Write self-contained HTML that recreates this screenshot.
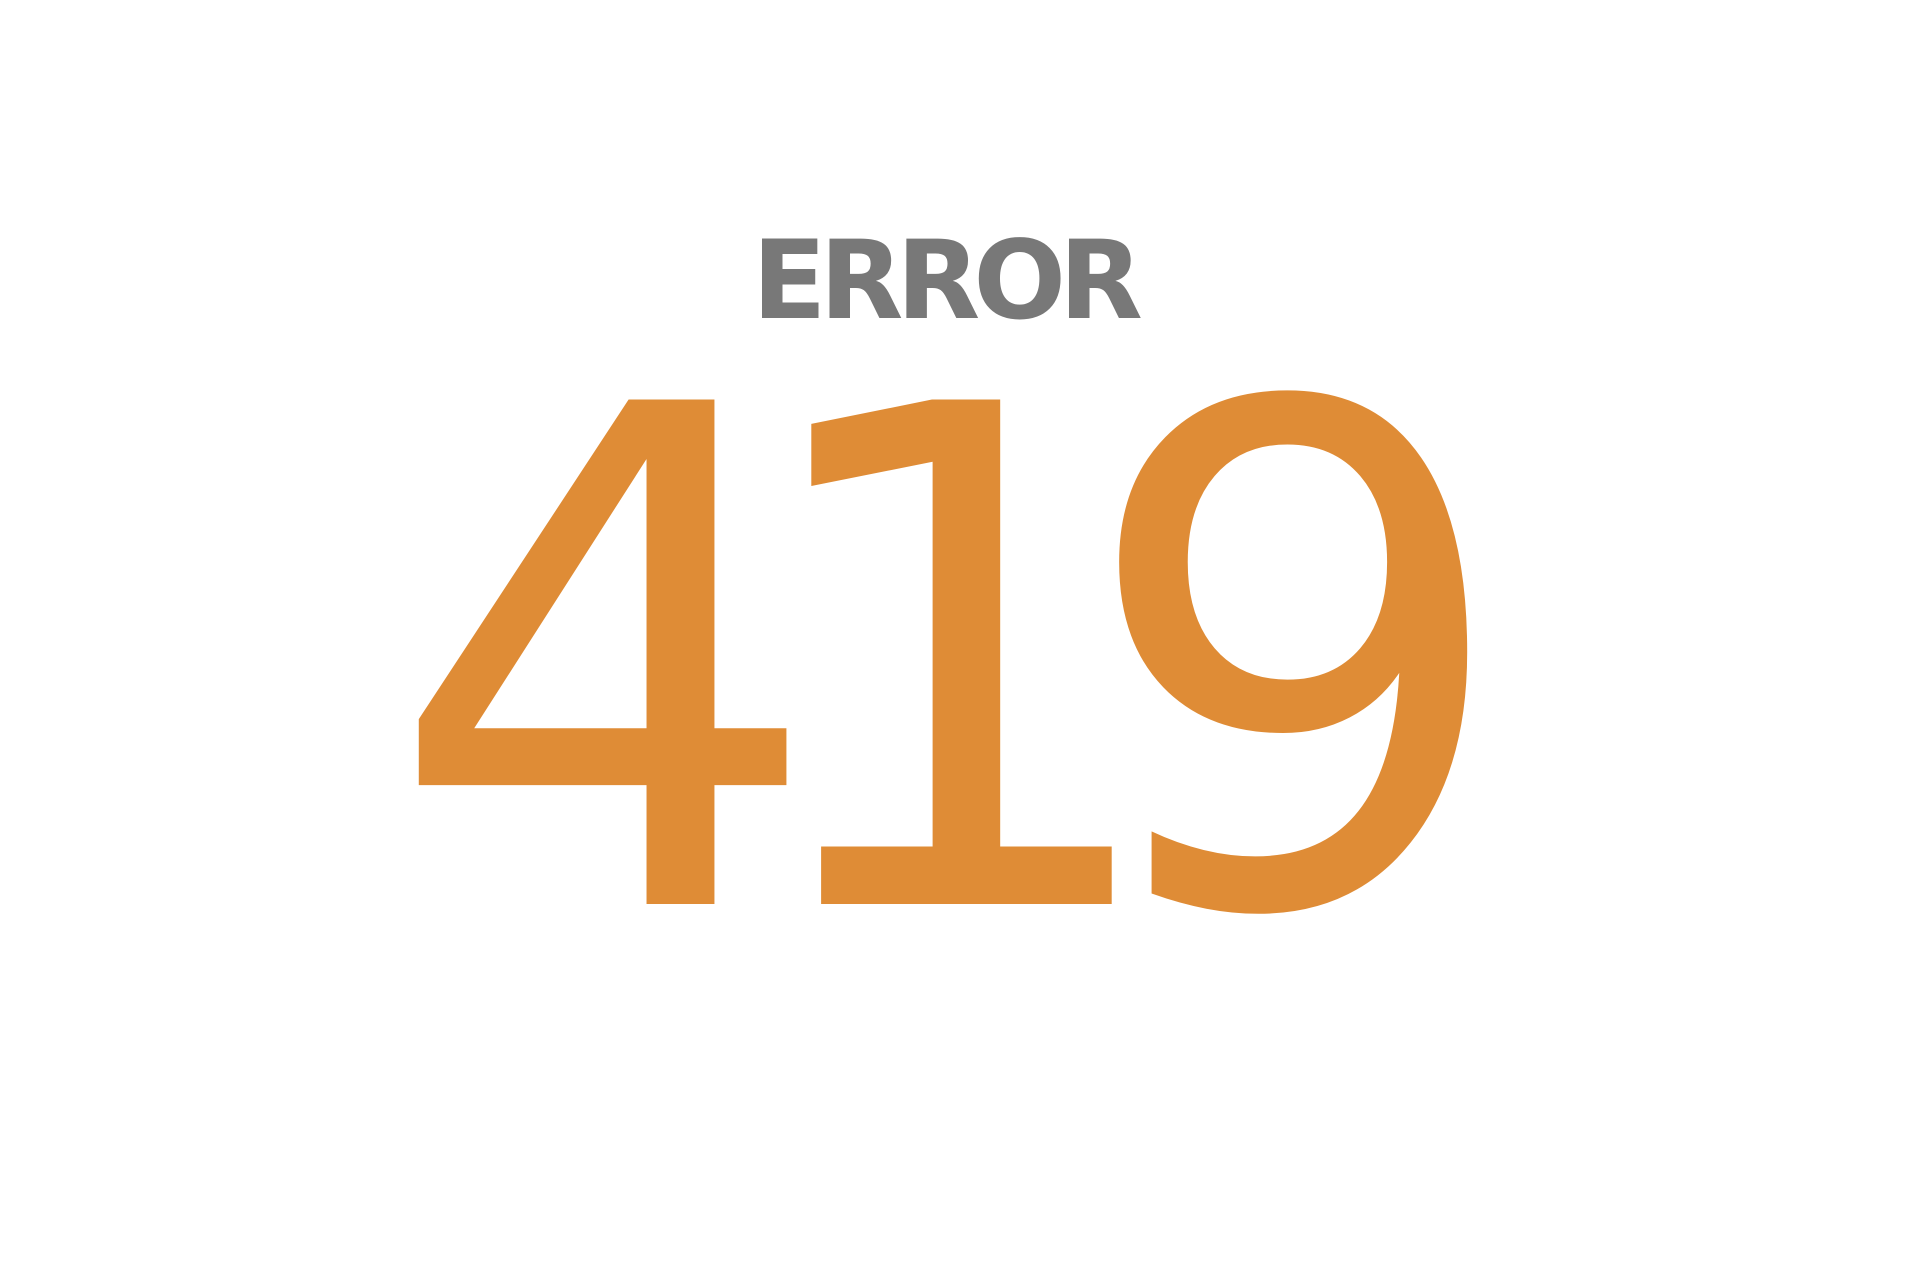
<!DOCTYPE html>
<html><head><meta charset="utf-8"><style>
html,body{margin:0;padding:0;background:#fff;}
svg{display:block;}
</style></head><body>
<svg width="1920" height="1279" viewBox="0 0 1920 1279">
<text x="752" y="318" font-family="DejaVu Sans, sans-serif" font-weight="bold" font-size="109" fill="#787878" letter-spacing="-7">ERROR</text>
<text x="385" y="904" dx="0 -90 -100" font-family="DejaVu Sans, sans-serif" font-size="692" fill="#DF8C36">419</text>
</svg>
</body></html>
